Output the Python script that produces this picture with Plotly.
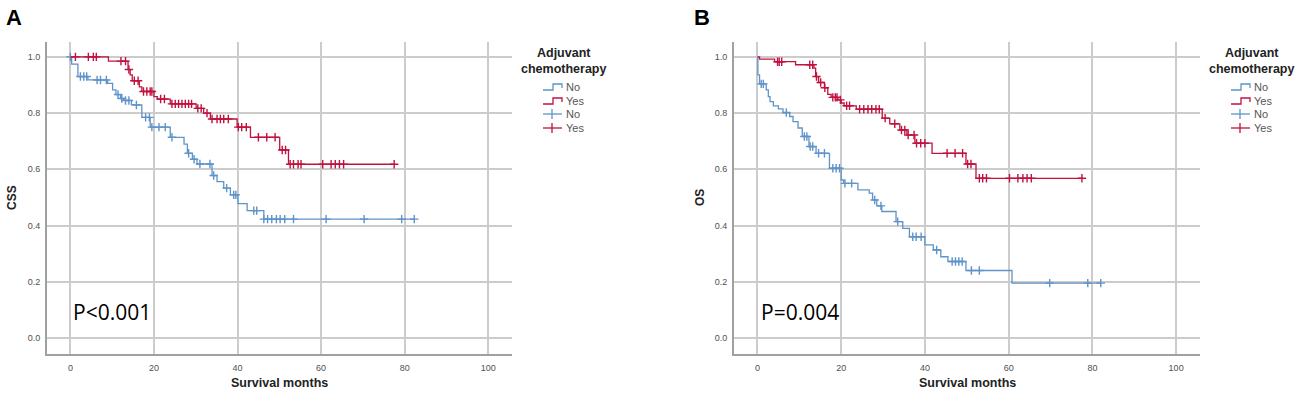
import numpy as np
import plotly.graph_objects as go

W, H = 1303, 401

# ---------------- Data ----------------
# Panel A: CSS
a_no_t = [0, 0.3, 1.8, 4.2, 8.9, 10.1, 10.9, 12.0, 12.8, 14.6, 17.1, 19.1, 23.9, 27.2, 28.0, 29.2,
          30.3, 33.9, 35.1, 36.7, 38.3, 40.1, 42.3, 46.3, 82.3]
a_no_s = [1.0, 0.974, 0.93, 0.918, 0.906, 0.883, 0.866, 0.852, 0.845, 0.829, 0.785, 0.75, 0.714, 0.69,
          0.657, 0.636, 0.619, 0.578, 0.556, 0.533, 0.509, 0.478, 0.453, 0.423, 0.423]
a_no_cens = [0.0, 2.4, 3.2, 3.9, 6.4, 7.2, 8.6, 11.4, 12.3, 13.2, 14.0, 15.8, 18.0, 18.9, 19.5, 21.2,
             22.7, 24.3, 28.3, 29.6, 31.0, 33.4, 34.3, 37.4, 39.1, 39.6, 43.9, 44.6, 46.3, 47.2, 48.2,
             49.3, 50.2, 51.3, 53.4, 61.2, 70.3, 79.3, 82.3]

a_yes_t = [0, 9.1, 13.8, 14.3, 14.8, 16.5, 17.1, 20.0, 20.8, 23.9, 30.1, 31.9, 33.5, 39.9, 43.1, 50.1,
           52.2, 77.5]
a_yes_s = [1.0, 0.985, 0.955, 0.936, 0.915, 0.893, 0.877, 0.859, 0.85, 0.833, 0.817, 0.8, 0.779, 0.75,
           0.714, 0.669, 0.618, 0.618]
a_yes_cens = [1.2, 4.3, 5.5, 6.2, 12.1, 13.2, 14.0, 15.3, 16.2, 17.5, 18.3, 19.1, 19.5, 21.6, 22.5, 24.3,
              25.1, 25.9, 26.7, 27.5, 28.3, 29.0, 30.5, 31.3, 32.7, 33.9, 35.1, 35.9, 36.7, 37.8, 40.2,
              41.0, 42.1, 45.0, 47.0, 49.0, 50.7, 51.5, 52.6, 53.4, 54.5, 55.2, 60.4, 62.4, 63.4, 64.4,
              65.4, 77.5]

# Panel B: OS
b_no_t = [0, 0.1, 0.5, 2.1, 2.6, 3.0, 3.8, 5.0, 6.1, 7.7, 8.5, 9.7, 10.7, 12.3, 14.0, 17.2, 20.0, 20.6,
          24.0, 26.7, 27.5, 28.5, 29.7, 33.1, 34.7, 36.3, 40.0, 42.0, 43.8, 45.5, 49.8, 60.8, 82.0]
b_no_s = [1.0, 0.936, 0.904, 0.883, 0.859, 0.841, 0.826, 0.815, 0.802, 0.788, 0.77, 0.747, 0.717, 0.681,
          0.657, 0.604, 0.562, 0.55, 0.527, 0.515, 0.491, 0.47, 0.45, 0.414, 0.39, 0.36, 0.331, 0.313,
          0.289, 0.272, 0.24, 0.195, 0.195]
b_no_cens = [0.9, 1.4, 6.9, 11.2, 11.8, 12.6, 13.2, 14.6, 16.0, 18.0, 18.8, 19.6, 20.9, 22.5, 28.0, 29.5,
             33.5, 37.1, 37.9, 39.1, 42.8, 46.5, 47.3, 48.1, 48.9, 51.1, 53.0, 69.8, 78.9, 82.0]

b_yes_t = [0, 0.5, 4.1, 9.1, 13.5, 13.9, 14.6, 16.0, 16.8, 17.6, 19.2, 20.0, 20.7, 23.6, 29.8, 31.6, 34.0,
           35.7, 37.6, 41.7, 49.8, 52.2, 77.5]
b_yes_s = [1.0, 0.992, 0.983, 0.972, 0.96, 0.93, 0.909, 0.89, 0.867, 0.856, 0.847, 0.836, 0.826, 0.814,
           0.782, 0.762, 0.74, 0.722, 0.693, 0.657, 0.619, 0.568, 0.568]
b_yes_cens = [4.8, 5.2, 5.8, 12.5, 13.2, 14.1, 15.1, 16.1, 18.0, 18.6, 19.0, 19.8, 21.3, 22.0, 24.4, 25.4,
              26.4, 27.3, 28.3, 29.1, 30.5, 32.8, 34.4, 35.2, 36.0, 37.4, 38.0, 39.0, 40.0, 45.3, 47.2,
              49.0, 50.2, 51.0, 53.0, 53.8, 54.7, 60.2, 62.2, 63.4, 64.4, 65.4, 77.5]

x_ticks = [0, 20, 40, 60, 80, 100]
y_ticks = [0.0, 0.2, 0.4, 0.6, 0.8, 1.0]
y_tick_labels = ["0.0", "0.2", "0.4", "0.6", "0.8", "1.0"]
legend_title = "Adjuvant<br>chemotherapy"
group_labels = ["No", "Yes"]
panel_letters = ["A", "B"]
y_titles = ["CSS", "OS"]
x_title = "Survival months"
p_values = ["P<0.001", "P=0.004"]

# ---------------- Style ----------------
BLUE = "#5f93c9"
RED = "#c0123f"
GRID = "#cccccc"
AXIS = "#a0a0a0"
TICK = "#505050"


def step_at(ts, ss, t):
    ts = np.asarray(ts)
    ss = np.asarray(ss)
    idx = np.searchsorted(ts, np.asarray(t), side="right") - 1
    return ss[np.clip(idx, 0, len(ss) - 1)]


fig = go.Figure()

panels = [
    (a_no_t, a_no_s, a_no_cens, a_yes_t, a_yes_s, a_yes_cens, "x", "y"),
    (b_no_t, b_no_s, b_no_cens, b_yes_t, b_yes_s, b_yes_cens, "x2", "y2"),
]

for (nt, ns, nc, yt, ys, yc, xa, ya) in panels:
    for t, s, c, col in [(nt, ns, nc, BLUE), (yt, ys, yc, RED)]:
        fig.add_trace(go.Scatter(x=t, y=s, mode="lines", line=dict(color=col, width=1.3, shape="hv"),
                                 xaxis=xa, yaxis=ya, showlegend=False, hoverinfo="skip"))
        fig.add_trace(go.Scatter(x=c, y=step_at(t, s, c), mode="markers",
                                 marker=dict(symbol="cross-thin", size=6, line=dict(color=col, width=1.4)),
                                 xaxis=xa, yaxis=ya, showlegend=False, hoverinfo="skip"))

XR = [-5.6, 105.7]
YR = [-0.057, 1.053]
ydom = [1 - 354 / H, 1 - 42 / H]
xdoms = [[47 / W, 512 / W], [734 / W, 1200 / W]]

ax_common = dict(showgrid=True, gridcolor=GRID, gridwidth=1.5, zeroline=False, showline=True,
                 linecolor=AXIS, linewidth=2, ticks="", tickfont=dict(family="Liberation Sans", size=9, color=TICK))

layout = dict(
    width=W, height=H, margin=dict(l=0, r=0, t=0, b=0, autoexpand=False),
    paper_bgcolor="white", plot_bgcolor="white", showlegend=False,
)
for i, (xa, ya) in enumerate([("xaxis", "yaxis"), ("xaxis2", "yaxis2")]):
    layout[xa] = dict(ax_common, domain=xdoms[i], range=XR, tickvals=x_ticks, ticktext=[str(v) for v in x_ticks],
                      anchor="y" if i == 0 else "y2", ticklabelstandoff=4)
    layout[ya] = dict(ax_common, domain=ydom, range=YR, tickvals=y_ticks, ticktext=y_tick_labels,
                      anchor="x" if i == 0 else "x2", ticklabelstandoff=3)
fig.update_layout(**layout)


def px(x):
    return x / W


def py(y):
    return 1 - y / H


ann = []
shapes = []
offsets = [0, 688]
for i in range(2):
    dx = offsets[i]
    # panel letter
    ann.append(dict(x=px(4 + dx), y=py(18), xref="paper", yref="paper", text="<b>%s</b>" % panel_letters[i],
                    showarrow=False, xanchor="left", yanchor="middle",
                    font=dict(family="Liberation Sans", size=22, color="black")))
    # y title
    ann.append(dict(x=px(12 + dx), y=py(198), xref="paper", yref="paper", text="<b>%s</b>" % y_titles[i],
                    showarrow=False, textangle=-90, xanchor="center", yanchor="middle",
                    font=dict(family="Liberation Sans", size=12, color="#222")))
    # x title
    ann.append(dict(x=px(279 + dx), y=py(383), xref="paper", yref="paper", text="<b>%s</b>" % x_title,
                    showarrow=False, xanchor="center", yanchor="middle",
                    font=dict(family="Liberation Sans", size=12.5, color="#222")))
    # p value
    ann.append(dict(x=px(71 + dx), y=py(312), xref="paper", yref="paper", text=p_values[i],
                    showarrow=False, xanchor="left", yanchor="middle",
                    font=dict(family="Open Sans", size=21, color="black")))
    # legend title
    ann.append(dict(x=px(563 + dx), y=py(61), xref="paper", yref="paper", text="<b>%s</b>" % legend_title,
                    showarrow=False, xanchor="center", yanchor="middle",
                    font=dict(family="Liberation Sans", size=12.5, color="#222")))
    # legend entries
    rows = [(87, BLUE, group_labels[0], "step"), (101, RED, group_labels[1], "step"),
            (114, BLUE, group_labels[0], "cross"), (128, RED, group_labels[1], "cross")]
    for (yy, col, lab, kind) in rows:
        ann.append(dict(x=px(564 + dx), y=py(yy), xref="paper", yref="paper", text=lab,
                        showarrow=False, xanchor="left", yanchor="middle",
                        font=dict(family="Liberation Sans", size=11, color="#555")))
        if kind == "step":
            path = "M %f,%f L %f,%f L %f,%f L %f,%f L %f,%f" % (
                px(543 + dx), py(yy + 3), px(553 + dx), py(yy + 3), px(553 + dx), py(yy - 3),
                px(562 + dx), py(yy - 3), px(562 + dx), py(yy + 1))
            shapes.append(dict(type="path", path=path, xref="paper", yref="paper",
                               line=dict(color=col, width=1.3)))
        else:
            shapes.append(dict(type="line", x0=px(543 + dx), x1=px(562 + dx), y0=py(yy), y1=py(yy),
                               xref="paper", yref="paper", line=dict(color=col, width=1.3)))
            shapes.append(dict(type="line", x0=px(552 + dx), x1=px(552 + dx), y0=py(yy - 5), y1=py(yy + 5),
                               xref="paper", yref="paper", line=dict(color=col, width=1.3)))

fig.update_layout(annotations=ann, shapes=shapes)
fig.write_html("out.html", config={"displayModeBar": False},
               post_script="document.body.style.margin='0px';document.body.style.padding='0px';")
